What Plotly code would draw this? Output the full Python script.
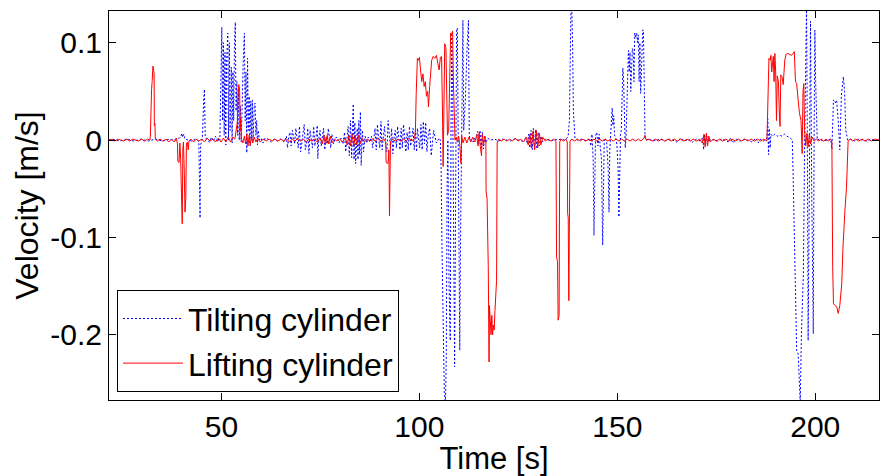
import plotly.graph_objects as go

# ---------------- data ----------------
tilt_t = [21.6, 22.5, 23.4, 24.3, 25.2, 26.1, 27.0, 27.9, 28.8, 29.7, 30.6, 31.5, 32.4, 33.3, 34.2, 35.1,
          36.0, 36.9, 37.8, 38.7, 39.4, 39.8, 40.0, 40.2, 40.5, 40.8, 41.5, 42.4, 43.3, 44.0, 44.3, 44.45,
          44.6, 44.75, 45.2, 45.5, 45.7, 45.9, 46.3, 47.0, 47.5, 48.0, 48.5, 49.0, 49.4,
          49.6, 49.9, 50.1, 50.3, 50.5, 50.7, 50.9, 51.1, 51.3, 51.6, 51.8, 52.0, 52.2, 52.5, 52.7, 52.9,
          53.1, 53.3, 53.5, 53.7, 53.9, 54.1, 54.3, 54.5, 54.8, 55.0, 55.2, 55.5, 55.8, 56.0, 56.2, 56.4,
          56.6, 56.8, 57.0, 57.2, 57.4, 57.6, 57.8, 58.0, 58.3, 58.5, 58.7, 58.9, 59.1, 59.3, 59.6,
          60.0, 60.5, 61.0, 61.8, 62.6, 63.4, 64.2, 65.0, 65.8, 66.4, 66.7, 67.0, 67.3, 67.6, 67.9, 68.2,
          68.5, 68.8, 69.1, 69.4, 69.7, 70.0, 70.3, 70.6, 70.9, 71.2, 71.5, 71.8, 72.1, 72.4, 72.7, 73.0,
          73.3, 73.6, 73.9, 74.2, 74.35, 74.6, 74.9, 75.2, 75.5, 75.8, 76.1, 76.4, 76.7, 77.0, 77.3, 77.6,
          77.9, 78.3, 78.7, 79.2, 79.7, 80.2, 80.7, 81.1, 81.4, 81.7, 82.0, 82.3, 82.6, 82.9, 83.1, 83.3,
          83.5, 83.7, 83.9, 84.1, 84.3, 84.5, 84.7, 84.9, 85.1, 85.3, 85.6, 85.9, 86.3, 86.7, 87.1, 87.5,
          87.9, 88.2, 88.5, 88.8, 89.1, 89.4, 89.7, 90.0, 90.3, 90.6, 90.9, 91.2, 91.5, 91.8, 92.1, 92.4,
          92.7, 93.0, 93.3, 93.6, 93.9, 94.2, 94.5, 94.8, 95.1, 95.4, 95.7, 96.0, 96.3, 96.6, 96.9, 97.2,
          97.5, 97.8, 98.1, 98.4, 98.7, 99.0, 99.3, 99.5, 99.8, 100.1, 100.4, 100.7, 101.0, 101.3, 101.6,
          101.9, 102.2, 102.6, 103.0, 103.6, 104.3, 105.0, 105.3,
          105.5, 105.7, 106.0, 106.3, 106.6, 106.8, 107.0, 107.2, 107.5, 107.8, 108.0, 108.2, 108.4, 108.7,
          108.9, 109.1, 109.4, 109.6, 109.9, 110.2, 110.4, 110.7, 111.0, 111.2, 111.6, 112.0, 112.4, 112.6,
          112.8, 113.2, 113.6, 114.0, 114.4, 114.7, 115.0, 115.3, 115.6, 115.9, 116.2, 116.5, 116.8, 117.2,
          118.0, 119.0, 120.0, 121.0, 122.0, 123.0, 124.0, 125.0, 126.0, 126.8, 127.3, 127.6, 127.9, 128.2,
          128.5, 128.8, 129.1, 129.4, 129.7, 130.0, 130.3, 130.7, 131.1, 131.8, 132.6, 133.4, 134.2, 135.0,
          135.8, 136.6, 137.3, 137.6, 137.9, 138.1, 138.3, 138.5, 138.7, 138.9, 139.1, 139.3, 140.0, 140.8,
          141.6, 142.4, 143.0, 143.3, 143.6, 143.9, 144.1, 144.3, 144.5, 144.8, 145.1, 145.4, 145.7, 146.0,
          146.3, 146.5, 146.7, 147.0, 147.3, 147.7, 147.9, 148.1, 148.3, 148.5, 148.7, 148.9, 149.1, 149.3,
          149.6, 149.9, 150.2, 150.4, 150.6, 150.8, 151.0, 151.2, 151.4, 151.6, 151.8, 152.0, 152.2, 152.5,
          152.8, 153.0, 153.2, 153.4, 153.6, 153.8, 154.0, 154.2, 154.4, 154.6, 154.9, 155.1, 155.3, 155.5,
          155.7, 155.9, 156.1, 156.4, 156.6, 156.8, 157.0, 157.3, 158.0, 159.0, 160.0, 161.0, 162.0, 163.0,
          164.0, 165.0, 166.0, 167.0, 168.0, 169.0, 170.0, 171.0, 171.6, 171.8, 172.0, 172.3, 172.6, 173.0,
          173.6, 174.5, 175.4, 176.3, 177.2, 178.0, 178.6, 179.2, 180.0, 181.0, 182.0, 183.0, 184.0, 185.0,
          185.6, 186.2, 187.0, 187.8, 188.0, 188.2, 188.4, 188.6, 188.8, 189.2, 189.8, 190.4, 191.0, 191.6,
          192.2, 192.8, 193.4, 194.0, 194.2, 194.4, 194.9, 195.3, 195.7, 196.0, 196.2, 196.5, 197.0, 197.3,
          197.6, 197.8, 198.0, 198.2, 198.5, 198.8, 199.1, 199.5, 199.7, 199.9, 200.1, 200.3, 200.5, 201.0,
          202.0, 203.0, 203.9, 204.2, 204.4, 204.6, 205.0, 205.4, 205.8, 206.2, 206.6, 207.1, 207.4, 207.7,
          208.2, 209.0, 210.0, 211.0, 212.0, 213.0, 214.0, 215.0, 216.2]
tilt_v = [0.0, 0.001, 0.0, -0.001, 0.0, 0.001, 0.0, -0.001, 0.0, 0.001, 0.0, -0.001, 0.0, 0.001, 0.0, -0.001,
          0.0, 0.001, 0.0, 0.001, 0.002, 0.004, 0.007, 0.003, 0.006, 0.001, 0.0, -0.001, 0.001, 0.0, -0.002, -0.06,
          -0.08, -0.005, 0.002, 0.04, 0.052, 0.005, 0.0, -0.002, 0.003, -0.001, 0.004, -0.002, 0.002,
          0.0, 0.06, 0.116, 0.02, 0.1, 0.005, 0.09, -0.005, 0.08, 0.11, 0.0, 0.1, 0.01, 0.075, -0.003, 0.07,
          0.02, 0.1, 0.121, 0.03, 0.06, 0.005, 0.05, 0.0, 0.035, -0.002, 0.05, 0.08, 0.11, 0.02, 0.07, -0.013,
          0.084, 0.01, 0.045, -0.006, 0.04, 0.0, 0.041, 0.0, 0.036, 0.038, 0.005, 0.02, -0.005, 0.01, 0.0,
          0.002, -0.003, 0.002, 0.001, -0.002, 0.001, -0.001, 0.001, -0.002, 0.004, -0.008, 0.003, 0.008, -0.006, 0.01, 0.004,
          -0.004, 0.012, 0.002, -0.008, 0.014, -0.012, -0.003, 0.006, 0.016, -0.01, -0.004, 0.012, -0.014, 0.01, 0.001, -0.008,
          0.014, -0.006, 0.003, 0.015, -0.019, 0.002, 0.01, -0.006, 0.004, 0.012, -0.01, 0.003, -0.004, 0.012, 0.002, -0.008,
          0.006, -0.004, 0.002, 0.003, -0.003, 0.002, -0.004, 0.008, -0.012, 0.003, 0.014, -0.016, 0.02, -0.018, 0.025, 0.037,
          -0.02, 0.018, -0.024, 0.006, 0.012, -0.02, 0.02, -0.015, 0.029, -0.026, 0.01, -0.012, 0.004, -0.003, 0.003, -0.002,
          0.004, -0.008, 0.002, 0.012, -0.01, 0.016, 0.002, -0.008, 0.019, -0.01, 0.004, 0.014, -0.006, -0.012, 0.02, 0.003,
          -0.008, 0.012, -0.014, 0.002, 0.01, -0.008, 0.014, 0.003, -0.01, 0.012, -0.008, 0.016, 0.001, -0.012, 0.008, -0.01,
          0.014, -0.006, 0.003, 0.012, -0.01, 0.01, -0.012, 0.012, 0.002, -0.008, 0.016, -0.01, 0.019, -0.004, 0.018,
          -0.012, 0.004, 0.012, -0.016, 0.01, -0.003, 0.002, 0.0,
          -0.03, -0.106, -0.2, -0.26, -0.27, -0.22, -0.05, 0.0, -0.15, -0.206, 0.02, 0.108, 0.05, -0.18,
          -0.233, -0.1, 0.113, 0.115, -0.05, -0.216, -0.1, 0.06, 0.123, 0.01, 0.04, 0.09, 0.123, 0.005,
          0.0, 0.001, -0.002, 0.002, 0.004, 0.009, -0.004, 0.01, -0.008, 0.008, -0.009, 0.005, -0.003, 0.002,
          0.0, 0.001, -0.001, 0.001, 0.0, -0.001, 0.001, 0.0, -0.001, 0.002, -0.004, 0.006, -0.008, 0.01,
          -0.01, 0.012, -0.01, 0.011, -0.009, 0.008, -0.006, 0.004, -0.002, 0.001, 0.0, -0.001, 0.001, 0.0,
          0.001, 0.0, 0.002, 0.005, 0.02, 0.1, 0.14, 0.135, 0.1, 0.03, 0.015, 0.002, 0.0, 0.001,
          0.0, -0.001, 0.002, -0.006, 0.006, -0.02, -0.098, -0.06, 0.004, 0.008, -0.006, 0.006, -0.004, -0.02,
          -0.108, -0.05, 0.002, 0.001, -0.002, -0.03, -0.074, -0.01, 0.01, 0.028, 0.033, 0.015, 0.025, 0.005,
          0.002, -0.005, -0.03, -0.079, -0.02, 0.005, 0.01, 0.04, 0.074, 0.06, 0.01, -0.008, 0.003, 0.06,
          0.092, 0.07, 0.09, 0.05, 0.08, 0.094, 0.091, 0.06, 0.11, 0.105, 0.11, 0.1, 0.108, 0.06,
          0.1, 0.048, 0.07, 0.113, 0.113, 0.05, 0.002, 0.0, 0.001, -0.001, 0.0, 0.001, -0.001, 0.001,
          0.0, -0.002, 0.002, -0.001, 0.001, -0.002, 0.001, -0.001, 0.003, -0.01, 0.006, -0.004, 0.004, -0.002,
          0.001, 0.0, -0.001, 0.001, 0.0, -0.002, 0.002, -0.003, 0.001, -0.001, 0.001, 0.0, -0.002, 0.002,
          -0.003, 0.001, -0.001, 0.002, 0.022, -0.015, 0.012, -0.008, 0.006, 0.004, 0.006, 0.004, 0.005, 0.004,
          0.006, 0.004, 0.003, 0.001, 0.0, -0.034, -0.13, -0.216, -0.22, -0.267, -0.27, -0.2, -0.137, -0.01,
          0.09, 0.14, 0.0, -0.206, -0.05, 0.122, -0.05, -0.199, 0.0, 0.113, 0.06, 0.014, 0.0, 0.001,
          -0.001, 0.0, 0.001, -0.009, 0.03, 0.041, 0.038, 0.041, 0.02, -0.01, 0.046, 0.065, 0.05, 0.01,
          0.0, 0.001, -0.001, 0.001, 0.0, -0.001, 0.001, 0.0, 0.0]

lift_t = [21.6, 22.4, 23.1, 23.9, 24.6, 25.3, 26.1, 26.8, 27.6, 28.3, 29.1, 29.8, 30.6, 31.3, 31.9, 32.05,
          32.15, 32.35, 32.5, 32.7, 32.85, 33.0, 33.05, 33.2, 33.3, 33.8, 34.5, 35.2, 36.0, 36.7, 37.4, 38.1,
          38.6, 38.9, 39.0, 39.3, 39.5, 39.7, 39.9, 40.1, 40.25, 40.4, 40.6, 40.8, 41.0, 41.15, 41.4, 41.6,
          41.8, 42.3, 43.0, 43.6, 44.3, 45.0, 45.7, 46.4, 47.1, 47.8, 48.5, 49.2, 49.9, 50.5, 51.1, 51.7,
          52.3, 52.9, 53.4, 53.8, 54.0, 54.2, 54.4, 54.6, 54.75, 54.9, 55.0, 55.4, 55.8, 56.1, 56.4, 56.7,
          57.0, 57.3, 57.6, 57.9, 58.3, 58.7, 59.2, 59.8, 60.5, 61.3, 62.0, 62.8, 63.5, 64.3, 65.0, 65.8,
          66.5, 67.2, 67.9, 68.6, 69.3, 70.0, 70.7, 71.4, 72.1, 72.8, 73.5, 74.2, 74.9, 75.5, 75.9, 76.3,
          76.7, 77.1, 77.5, 77.9, 78.5, 79.2, 79.9, 80.6, 81.3, 81.8, 82.2, 82.6, 83.0, 83.4, 83.8, 84.2,
          84.6, 85.0, 85.5, 86.1, 86.8, 87.5, 88.2, 88.9, 89.6, 90.3, 91.0, 91.5, 91.6, 92.1, 92.3, 92.45,
          92.6, 92.7, 93.2, 93.9, 94.6, 95.3, 96.0, 96.7, 97.4, 98.1, 98.8, 99.0, 99.2, 99.5, 99.8, 100.0,
          100.3, 100.6, 100.9, 101.2, 101.5, 101.8, 102.1, 102.3, 102.6, 102.9, 103.1, 103.5, 103.9, 104.3,
          104.7, 105.0, 105.3, 105.6, 105.8, 106.0, 106.2, 106.4, 106.7, 106.9, 107.1, 107.4, 107.6, 107.9,
          108.1, 108.4, 108.6, 108.8, 109.0, 109.3, 109.6, 109.9, 110.2, 110.5, 110.7, 111.0, 111.5, 112.0,
          112.5, 113.0, 113.5, 114.0, 114.5, 114.8, 115.1, 115.4, 115.7, 115.9, 116.2, 116.5, 116.8, 116.85,
          117.1, 117.4, 117.6, 117.7, 117.9, 118.1, 118.3, 118.5, 118.7, 118.9, 119.1, 119.3, 119.5, 119.65,
          120.0, 120.7, 121.4, 122.1, 122.8, 123.5, 124.2, 124.9, 125.6, 126.3, 127.0, 127.5, 127.9, 128.3,
          128.7, 129.1, 129.5, 129.9, 130.3, 130.7, 131.2, 131.8, 132.5, 133.2, 133.9, 134.5, 134.65, 134.9,
          135.05, 135.3, 135.45, 135.8, 136.4, 137.0, 137.35, 137.45, 137.6, 137.75, 137.85, 137.95, 138.05, 138.5,
          139.2, 139.9, 140.6, 141.3, 142.0, 142.7, 143.4, 144.1, 144.8, 145.5, 146.2, 146.9, 147.6, 148.3,
          149.0, 149.7, 150.4, 151.1, 151.8, 152.5, 153.2, 153.9, 154.6, 155.3, 156.0, 156.7, 157.0, 157.3,
          158.0, 158.8, 159.6, 160.4, 161.2, 162.0, 162.8, 163.6, 164.4, 165.2, 166.0, 166.8, 167.6, 168.4,
          169.2, 170.0, 170.8, 171.5, 171.9, 172.2, 172.5, 172.8, 173.1, 173.5, 174.2, 175.0, 175.8, 176.6,
          177.4, 178.2, 179.0, 179.8, 180.6, 181.4, 182.2, 183.0, 183.8, 184.6, 185.4, 186.2, 187.0, 187.8,
          188.0, 188.1, 188.3, 188.6, 188.8, 189.0, 189.2, 189.4, 189.6, 189.8, 190.0, 190.2, 190.4, 190.7,
          190.9, 191.1, 191.3, 191.6, 191.9, 192.1, 192.3, 192.6, 193.0, 193.5, 194.0, 194.4, 194.7, 195.0,
          195.3, 195.7, 196.0, 196.4, 196.7, 196.9, 197.1, 197.3, 197.6, 197.9, 198.2, 198.5, 198.8, 199.2,
          199.7, 200.3, 200.9, 201.5, 202.1, 202.7, 203.3, 203.9, 204.2, 204.4, 204.6, 205.0, 205.4, 205.8,
          206.2, 206.7, 207.0, 207.5, 207.9, 208.3, 208.8, 209.5, 210.2, 211.0, 211.8, 212.6, 213.4, 214.2,
          215.0, 216.2]
lift_v = [0.0, 0.001, -0.001, 0.001, 0.0, -0.001, 0.001, -0.001, 0.001, 0.0, -0.001, 0.001, -0.001, 0.001, 0.0, 0.004,
          0.045, 0.052, 0.06, 0.076, 0.072, 0.068, 0.015, 0.017, 0.001, -0.001, 0.001, -0.001, 0.001, -0.002, 0.001, -0.002,
          0.002, -0.004, -0.022, -0.023, -0.003, -0.02, -0.055, -0.086, -0.01, -0.002, -0.03, -0.074, -0.06, -0.004, -0.002, -0.01,
          -0.001, 0.001, -0.002, 0.001, -0.001, 0.001, -0.002, 0.002, -0.001, 0.001, -0.002, 0.002, -0.002, 0.002, -0.002, 0.003,
          -0.002, 0.003, 0.001, 0.012, 0.018, 0.045, 0.057, 0.05, 0.01, 0.022, 0.002, -0.003, 0.004, -0.004, 0.006, -0.006,
          0.005, -0.005, 0.004, -0.003, 0.003, -0.002, 0.002, -0.002, 0.001, -0.001, 0.001, -0.001, 0.001, -0.001, 0.001, -0.001,
          0.001, -0.002, 0.001, -0.001, 0.002, -0.001, 0.001, -0.002, 0.001, -0.001, 0.001, -0.002, 0.002, -0.004, 0.005, -0.005,
          0.005, -0.004, 0.004, -0.003, 0.001, -0.001, 0.001, -0.002, 0.002, -0.005, 0.005, -0.006, 0.006, -0.006, 0.005, -0.005,
          0.005, -0.004, 0.002, -0.002, 0.001, -0.001, 0.001, -0.001, 0.002, -0.001, 0.001, -0.002, -0.023, -0.024, -0.01, -0.078,
          -0.04, -0.002, 0.001, -0.001, 0.001, -0.001, 0.001, -0.001, 0.002, -0.001, 0.002, 0.01, 0.048, 0.084, 0.082, 0.085,
          0.072, 0.06, 0.068, 0.055, 0.06, 0.045, 0.05, 0.034, 0.055, 0.07, 0.082, 0.086, 0.084, 0.087,
          0.08, 0.072, 0.085, 0.086, 0.04, -0.027, 0.03, 0.099, 0.095, 0.03, 0.005, 0.01, 0.06, 0.11,
          0.108, 0.112, 0.06, 0.035, 0.0, 0.003, -0.002, 0.004, -0.004, -0.024, 0.004, -0.003, 0.003, -0.003,
          0.003, -0.002, 0.003, -0.002, 0.005, -0.006, 0.008, -0.007, -0.016, 0.006, -0.005, 0.004, -0.002, -0.053,
          -0.06, -0.13, -0.228, -0.17, -0.19, -0.2, -0.18, -0.2, -0.19, -0.195, -0.175, -0.15, -0.144, -0.003,
          0.001, -0.001, 0.001, -0.001, 0.001, -0.001, 0.002, -0.001, 0.001, -0.002, 0.003, -0.005, 0.006, -0.008,
          0.009, -0.01, 0.01, -0.008, 0.007, -0.005, 0.003, -0.001, 0.001, -0.001, 0.001, -0.001, -0.12, -0.125,
          -0.185, -0.18, -0.002, 0.001, -0.001, 0.001, -0.002, -0.075, -0.08, -0.165, -0.09, -0.086, -0.001, 0.001,
          -0.001, 0.001, -0.001, 0.001, -0.001, 0.001, -0.001, 0.001, -0.001, 0.001, -0.001, 0.001, -0.001, 0.001,
          -0.001, 0.001, -0.001, 0.001, -0.001, 0.001, -0.001, 0.001, -0.001, 0.001, -0.001, 0.002, 0.005, 0.0,
          0.001, -0.001, 0.001, -0.001, 0.001, -0.001, 0.001, -0.001, 0.001, -0.001, 0.001, -0.001, 0.001, -0.001,
          0.001, -0.001, 0.001, -0.003, 0.006, -0.007, 0.007, -0.006, 0.004, -0.002, 0.001, -0.001, 0.001, -0.001,
          0.001, -0.001, 0.001, -0.001, 0.001, -0.001, 0.001, -0.001, 0.001, -0.001, 0.001, -0.001, 0.001, -0.001,
          0.03, 0.065, 0.084, 0.082, 0.087, 0.07, 0.078, 0.086, 0.06, 0.089, 0.07, 0.02, 0.066, 0.06,
          0.03, 0.014, 0.067, 0.065, 0.057, 0.07, 0.082, 0.088, 0.089, 0.088, 0.087, 0.089, 0.091, 0.06,
          0.058, 0.04, 0.028, 0.02, -0.014, 0.05, 0.058, 0.01, -0.006, 0.007, -0.007, 0.006, -0.004, 0.003,
          -0.001, 0.001, -0.001, 0.001, -0.001, 0.001, -0.001, 0.001, -0.002, -0.13, -0.168, -0.17, -0.171, -0.178,
          -0.17, -0.147, -0.11, -0.072, -0.048, -0.001, 0.001, -0.001, 0.001, -0.001, 0.001, -0.001, 0.001, -0.001,
          0.001, 0.0]

x_ticks = [50, 100, 150, 200]
y_ticks = [-0.2, -0.1, 0, 0.1]
y_tick_labels = ["-0.2", "-0.1", "0", "0.1"]
x_range = [21.6, 216.1]
y_range = [-0.267, 0.1326]

FONT = "Liberation Sans, Arial, sans-serif"

fig = go.Figure()
fig.add_trace(go.Scatter(x=tilt_t, y=tilt_v, mode="lines", name="Tilting cylinder",
                         line=dict(color="#0000ff", width=1, dash="2px,2px")))
fig.add_trace(go.Scatter(x=lift_t, y=lift_v, mode="lines", name="Lifting cylinder",
                         line=dict(color="#ff0000", width=1)))

axis_common = dict(showline=True, linecolor="black", linewidth=1, mirror="ticks",
                   ticks="inside", ticklen=7, tickcolor="black", tickwidth=1,
                   showgrid=False, zeroline=False,
                   tickfont=dict(family=FONT, size=30, color="black"))

fig.update_layout(
    width=880, height=476,
    margin=dict(l=109, r=1, t=11, b=76, pad=0),
    paper_bgcolor="white", plot_bgcolor="white",
    font=dict(family=FONT, size=30, color="black"),
    xaxis=dict(range=x_range, tickvals=x_ticks, ticktext=[str(v) for v in x_ticks],
               title=dict(text="Time [s]", font=dict(family=FONT, size=31), standoff=2),
               **axis_common),
    yaxis=dict(range=y_range, tickvals=y_ticks, ticktext=y_tick_labels,
               title=dict(text="Velocity [m/s]", font=dict(family=FONT, size=32), standoff=2),
               **axis_common),
    legend=dict(x=0.0104, y=0.02, xanchor="left", yanchor="bottom",
                bgcolor="white", bordercolor="black", borderwidth=1,
                font=dict(family=FONT, size=32, color="black"),
                tracegroupgap=0, itemwidth=60),
    showlegend=True,
)

fig.write_html("out.html")
